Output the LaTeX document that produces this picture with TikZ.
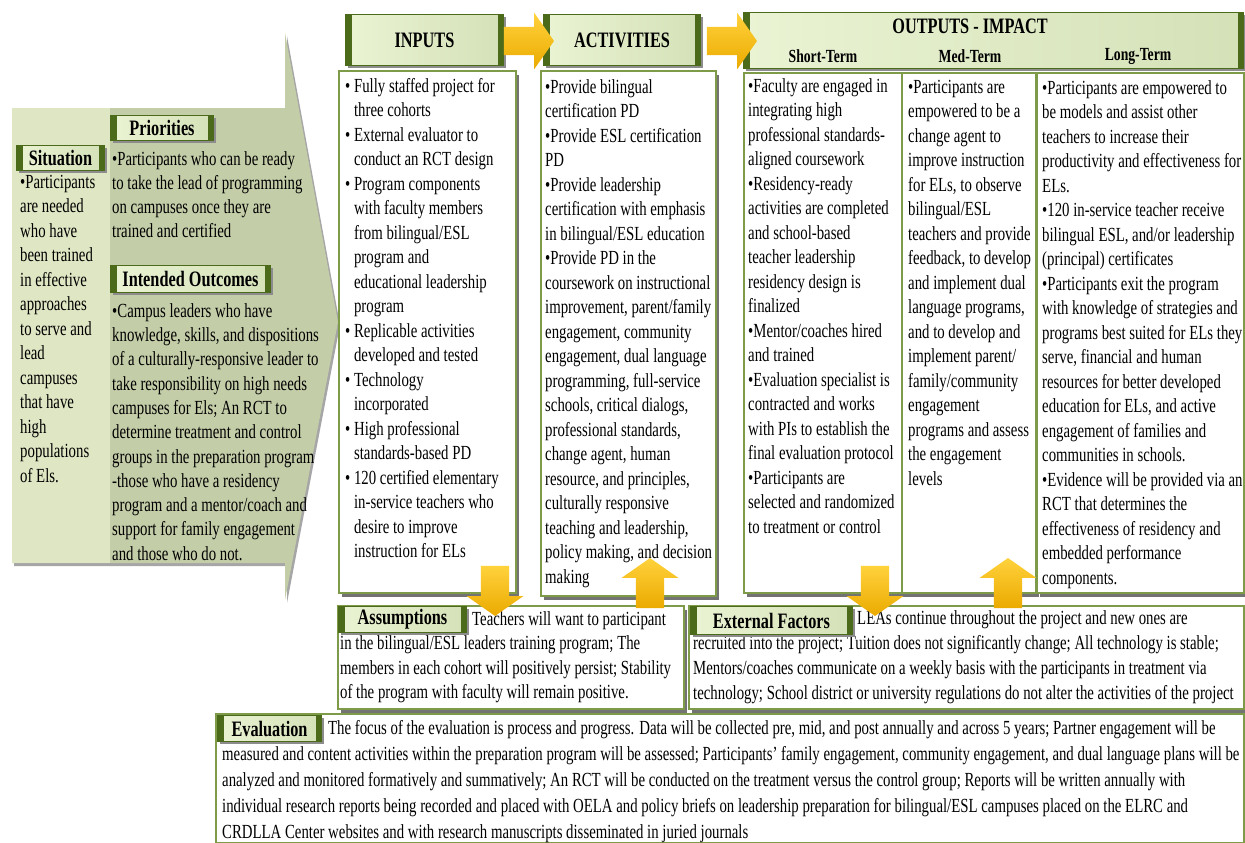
\documentclass[tikz,border=0pt]{standalone}
\usepackage{fontspec}
\setmainfont{Liberation Serif}[FakeStretch=0.74]
\usetikzlibrary{shapes.arrows,shadows}

\definecolor{panelA}{HTML}{DFE6C3}
\definecolor{panelB}{HTML}{C3CDA8}
\definecolor{tabfill}{HTML}{EAF3D3}
\definecolor{tabedge}{HTML}{4B6B1B}
\definecolor{boxedge}{HTML}{7E9B4A}
\definecolor{arrowtop}{HTML}{FFD23C}
\definecolor{arrowbot}{HTML}{EBAA00}

\newcommand\hang{\phantom{\textbullet\ }}

\tikzset{
  box/.style={draw=boxedge, line width=2.4pt, fill=white, anchor=north west, inner sep=0pt,
    drop shadow={shadow xshift=3pt, shadow yshift=-4pt, opacity=1, fill=black!55}},
  body/.style={anchor=north west, align=left, inner sep=0pt, font=\fontsize{20}{24.5}\selectfont},
  tab/.style={draw=tabedge, line width=1pt, left color=tabfill, right color=tabfill!80!boxedge, anchor=north west, inner sep=0pt,
    font=\bfseries\fontsize{22}{26}\selectfont,
    drop shadow={shadow xshift=2pt, shadow yshift=-2.5pt, opacity=1, fill=black!45},
    path picture={
      \fill[tabedge] (path picture bounding box.south west) rectangle ([xshift=6pt]path picture bounding box.north west);
      \fill[tabedge] (path picture bounding box.south east) rectangle ([xshift=-6pt]path picture bounding box.north east);}},
  sublabel/.style={font=\bfseries\fontsize{18.5}{22}\selectfont, inner sep=0pt},
  yarrow/.style={single arrow, top color=arrowtop, bottom color=arrowbot, draw=none, inner xsep=0pt, inner ysep=14pt,
    single arrow head extend=14pt, single arrow tip angle=110, minimum height=50pt}
}

\begin{document}
\begin{tikzpicture}[x=1pt,y=-1pt]
\useasboundingbox (0,0) rectangle (1245,843);

\fill[panelB, drop shadow={shadow xshift=2pt, shadow yshift=-3pt, opacity=1, fill=black!35}]
  (12,108) -- (285,108) -- (285,33) -- (338,322) -- (285,600) -- (285,563) -- (12,563) -- cycle;
\fill[panelA] (12,108) rectangle (110,563);

\node[tab, minimum width=88pt, minimum height=25pt] (tabSit) at (16,145) {Situation};
\node[body] (sitTxt) at (20,171) {\strut\textbullet Participants\\are needed\\who have\\been trained\\in effective\\approaches\\to serve and\\lead\\campuses\\that have\\high\\populations\\of Els.};

\node[tab, minimum width=103pt, minimum height=25pt] (tabPri) at (110,115) {Priorities};
\node[body, font=\fontsize{20}{24}\selectfont] (priTxt) at (112,148) {\strut\textbullet Participants who can be ready\\to take the lead of programming\\on campuses once they are\\trained and certified};

\node[tab, minimum width=160pt, minimum height=27pt] (tabOut) at (110,265) {Intended Outcomes};
\node[body, font=\fontsize{20}{24.3}\selectfont] (outTxt) at (112,300) {\strut\textbullet Campus leaders who have\\knowledge, skills, and dispositions\\of a culturally-responsive leader to\\take responsibility on high needs\\campuses for Els; An RCT to\\determine treatment and control\\groups in the preparation program\\-those who have a residency\\program and a mentor/coach and\\support for family engagement\\and those who do not.};

\node[tab, minimum width=158pt, minimum height=51pt] (tabIn) at (345,14) {INPUTS};
\node[tab, minimum width=157pt, minimum height=51pt] (tabAct) at (543,14) {ACTIVITIES};
\node[tab, minimum width=500pt, minimum height=56pt] (tabImp) at (743,12) {};
\node[font=\bfseries\fontsize{22}{26}\selectfont, inner sep=0pt] (impTitle) at (970,26) {OUTPUTS - IMPACT};
\node[sublabel] (lblShort) at (823,56) {Short-Term};
\node[sublabel] (lblMed) at (970,56) {Med-Term};
\node[sublabel] (lblLong) at (1138,56) {Long-Term};

\node[box, minimum width=177pt, minimum height=522pt] (inBox) at (338,70) {};
\node[body] (inTxt) at (345,75) {\strut\textbullet\ Fully staffed project for\\\hang three cohorts\\\textbullet\ External evaluator to\\\hang conduct an RCT design\\\textbullet\ Program components\\\hang with faculty members\\\hang from bilingual/ESL\\\hang program and\\\hang educational leadership\\\hang program\\\textbullet\ Replicable activities\\\hang developed and tested\\\textbullet\ Technology\\\hang incorporated\\\textbullet\ High professional\\\hang standards-based PD\\\textbullet\ 120 certified elementary\\\hang in-service teachers who\\\hang desire to improve\\\hang instruction for ELs};

\node[box, minimum width=175pt, minimum height=525pt] (actBox) at (540,70) {};
\node[body] (actTxt) at (545,76) {\strut\textbullet Provide bilingual\\certification PD\\\textbullet Provide ESL certification\\PD\\\textbullet Provide leadership\\certification with emphasis\\in bilingual/ESL education\\\textbullet Provide PD in the\\coursework on instructional\\improvement, parent/family\\engagement, community\\engagement, dual language\\programming, full-service\\schools, critical dialogs,\\professional standards,\\change agent, human\\resource, and principles,\\culturally responsive\\teaching and leadership,\\policy making, and decision\\making};

\node[box, minimum width=158pt, minimum height=520pt] (shortBox) at (743,72) {};
\node[body] (shortTxt) at (748,75) {\strut\textbullet Faculty are engaged in\\integrating high\\professional standards-\\aligned coursework\\\textbullet Residency-ready\\activities are completed\\and school-based\\teacher leadership\\residency design is\\finalized\\\textbullet Mentor/coaches hired\\and trained\\\textbullet Evaluation specialist is\\contracted and works\\with PIs to establish the\\final evaluation protocol\\\textbullet Participants are\\selected and randomized\\to treatment or control};

\node[box, minimum width=134pt, minimum height=520pt] (medBox) at (901,72) {};
\node[body] (medTxt) at (908,76) {\strut\textbullet Participants are\\empowered to be a\\change agent to\\improve instruction\\for ELs, to observe\\bilingual/ESL\\teachers and provide\\feedback, to develop\\and implement dual\\language programs,\\and to develop and\\implement parent/\\family/community\\engagement\\programs and assess\\the engagement\\levels};

\node[box, minimum width=207pt, minimum height=520pt] (longBox) at (1036,72) {};
\node[body] (longTxt) at (1042,77) {\strut\textbullet Participants are empowered to\\be models and assist other\\teachers to increase their\\productivity and effectiveness for\\ELs.\\\textbullet 120 in-service teacher receive\\bilingual ESL, and/or leadership\\(principal) certificates\\\textbullet Participants exit the program\\with knowledge of strategies and\\programs best suited for ELs they\\serve, financial and human\\resources for better developed\\education for ELs, and active\\engagement of families and\\communities in schools.\\\textbullet Evidence will be provided via an\\RCT that determines the\\effectiveness of residency and\\embedded performance\\components.};

\node[box, minimum width=346pt, minimum height=103pt] (asmBox) at (337,605) {};
\node[body] (asmTxt) at (340,608) {\strut\hspace*{132pt}Teachers will want to participant\\in the bilingual/ESL leaders training program; The\\members in each cohort will positively persist; Stability\\of the program with faculty will remain positive.};
\node[tab, minimum width=128pt, minimum height=26pt] (tabAsm) at (338,606) {Assumptions};

\node[box, minimum width=555pt, minimum height=103pt] (extBox) at (688,605) {};
\node[body, font=\fontsize{20}{25}\selectfont] (extTxt) at (693,607) {\strut\hspace*{164pt}LEAs continue throughout the project and new ones are\\recruited into the project; Tuition does not significantly change; All technology is stable;\\Mentors/coaches communicate on a weekly basis with the participants in treatment via\\technology; School district or university regulations do not alter the activities of the project};
\node[tab, minimum width=162pt, minimum height=28pt] (tabExt) at (690,606) {External Factors};

\node[box, minimum width=1028pt, minimum height=129pt] (evalBox) at (215,713) {};
\node[body, font=\fontsize{20}{26}\selectfont] (evalTxt) at (222,716) {\strut\hspace*{106pt}The focus of the evaluation is process and progress. Data will be collected pre, mid, and post annually and across 5 years; Partner engagement will be\\measured and content activities within the preparation program will be assessed; Participants' family engagement, community engagement, and dual language plans will be\\analyzed and monitored formatively and summatively; An RCT will be conducted on the treatment versus the control group; Reports will be written annually with\\individual research reports being recorded and placed with OELA and policy briefs on leadership preparation for bilingual/ESL campuses placed on the ELRC and\\CRDLLA Center websites and with research manuscripts disseminated in juried journals};
\node[tab, minimum width=104pt, minimum height=26pt] (tabEval) at (217,715) {Evaluation};

\node[yarrow] (arInAct) at (524,41) {};
\node[yarrow] (arActImp) at (727,41) {};
\node[yarrow, rotate=-90] (arInAsm) at (495,586) {};
\node[yarrow, rotate=90] (arAsmAct) at (650,588) {};
\node[yarrow, rotate=-90] (arShortExt) at (875,586) {};
\node[yarrow, rotate=90] (arExtMed) at (1008,588) {};
\end{tikzpicture}
\end{document}
